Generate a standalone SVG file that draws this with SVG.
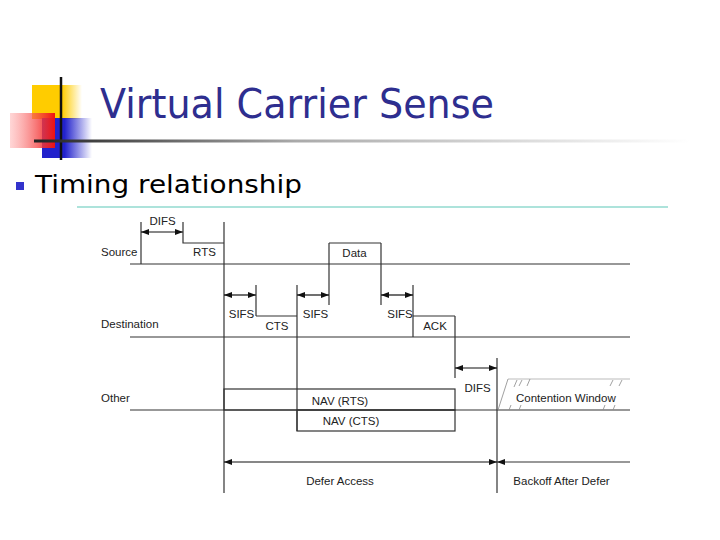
<svg xmlns="http://www.w3.org/2000/svg" width="720" height="540" viewBox="0 0 720 540">
<defs>
<linearGradient id="gY" x1="0" x2="1" y1="0" y2="0"><stop offset="0" stop-color="#ffcc00"/><stop offset="0.6" stop-color="#ffcc00"/><stop offset="1" stop-color="#ffcc00" stop-opacity="0"/></linearGradient>
<linearGradient id="gR" x1="0" x2="1" y1="0" y2="0"><stop offset="0" stop-color="#ff9999" stop-opacity="0.4"/><stop offset="1" stop-color="#ee1111"/></linearGradient>
<linearGradient id="gB" x1="0" x2="1" y1="0" y2="0"><stop offset="0" stop-color="#2222cc"/><stop offset="0.45" stop-color="#2222cc"/><stop offset="1" stop-color="#2222cc" stop-opacity="0"/></linearGradient>
<linearGradient id="gL" x1="34" x2="690" y1="0" y2="0" gradientUnits="userSpaceOnUse"><stop offset="0" stop-color="#222"/><stop offset="0.4" stop-color="#aaa"/><stop offset="1" stop-color="#fff"/></linearGradient>
<marker id="ah" viewBox="0 0 8 6" refX="8" refY="3" markerWidth="8" markerHeight="6" markerUnits="userSpaceOnUse" orient="auto-start-reverse"><path d="M0,0 L8,3 L0,6 z" fill="#111"/></marker>
</defs>
<style>
.t{font-family:"Liberation Sans",Arial,sans-serif;font-size:11.5px;fill:#222}
.m{text-anchor:middle}
.ln{stroke:#333;stroke-width:1.2;fill:none}
.ar{stroke:#111;stroke-width:1.2;fill:none;marker-start:url(#ah);marker-end:url(#ah)}
.h{stroke:#888;stroke-width:0.8}
</style>
<rect width="720" height="540" fill="#fff"/>
<g id="logo">
<rect x="32" y="85" width="50" height="34" fill="url(#gY)"/>
<rect x="42" y="118" width="50" height="40" fill="url(#gB)"/>
<rect x="10" y="113" width="45" height="35" fill="url(#gR)"/>
<line x1="61" y1="77" x2="61" y2="160" stroke="#111" stroke-width="2.5"/>
<line x1="34" y1="141" x2="690" y2="141" stroke="url(#gL)" stroke-width="3"/>
</g>
<g id="title"><text x="100" y="118" font-family="'DejaVu Sans',Tahoma,sans-serif" font-size="41" fill="#2e2e8f" textLength="394" lengthAdjust="spacingAndGlyphs">Virtual Carrier Sense</text></g>
<g id="bullet">
<rect x="16" y="182" width="8" height="8" fill="#3333cc"/>
<text x="35" y="193" font-family="'DejaVu Sans',Tahoma,sans-serif" font-size="25" fill="#000" textLength="267" lengthAdjust="spacingAndGlyphs">Timing relationship</text>
</g>
<line x1="77" y1="207" x2="668" y2="207" stroke="#5cc8b8" stroke-width="1.2"/>
<g id="labels">
<text class="t" x="101" y="256">Source</text>
<text class="t" x="101" y="328">Destination</text>
<text class="t" x="101" y="402">Other</text>
</g>
<g id="connectors">
<line class="ln" x1="130" y1="264" x2="630" y2="264"/>
<line class="ln" x1="130" y1="337" x2="630" y2="337"/>
<line class="ln" x1="130" y1="410" x2="630" y2="410"/>
<line class="ln" x1="141" y1="222" x2="141" y2="264"/>
<line class="ln" x1="224" y1="222" x2="224" y2="493"/>
<line class="ln" x1="256" y1="285" x2="256" y2="316"/>
<line class="ln" x1="297" y1="285" x2="297" y2="431"/>
<line class="ln" x1="329" y1="243" x2="329" y2="305"/>
<line class="ln" x1="381" y1="243" x2="381" y2="305"/>
<line class="ln" x1="413" y1="285" x2="413" y2="337"/>
<line class="ln" x1="455" y1="316" x2="455" y2="378"/>
<line class="ln" x1="497" y1="358" x2="497" y2="493"/>
<line class="ar" x1="141" y1="232" x2="183" y2="232"/>
<line class="ar" x1="224" y1="295" x2="256" y2="295"/>
<line class="ar" x1="297" y1="295" x2="329" y2="295"/>
<line class="ar" x1="381" y1="295" x2="413" y2="295"/>
<line class="ar" x1="455" y1="368" x2="497" y2="368"/>
<line class="ar" x1="224" y1="462" x2="497" y2="462"/>
<line class="ln" x1="630" y1="462" x2="497" y2="462" style="marker-end:url(#ah)"/>
</g>
<g id="rts"><path class="ln" d="M183,222 V243 H224"/><text class="t m" x="204.5" y="256">RTS</text></g>
<g id="data"><path class="ln" d="M329,243 H381"/><text class="t m" x="354.5" y="257">Data</text></g>
<g id="cts"><path class="ln" d="M256,316 H297"/><text class="t m" x="277" y="330">CTS</text></g>
<g id="ack"><path class="ln" d="M413,316 H455"/><text class="t m" x="435" y="330">ACK</text></g>
<g id="nav-rts"><rect class="ln" x="224" y="389" width="231" height="21"/><text class="t m" x="340" y="405">NAV (RTS)</text></g>
<g id="nav-cts"><rect class="ln" x="297" y="410" width="158" height="21"/><text class="t m" x="351" y="425">NAV (CTS)</text></g>
<g id="intervals">
<text class="t m" x="162.5" y="225">DIFS</text>
<text class="t m" x="241.5" y="318">SIFS</text>
<text class="t m" x="315.5" y="318">SIFS</text>
<text class="t m" x="400" y="318">SIFS</text>
<text class="t m" x="477.5" y="392">DIFS</text>
</g>
<g id="contention">
<line x1="508" y1="379" x2="630" y2="379" stroke="#bbb" stroke-width="1"/>
<line class="h" x1="498" y1="410" x2="508" y2="379"/>
<line class="h" x1="517" y1="380" x2="514" y2="387"/>
<line class="h" x1="522" y1="380" x2="519" y2="386"/>
<line class="h" x1="530" y1="379" x2="527" y2="386"/>
<line class="h" x1="509" y1="410" x2="511" y2="405"/>
<line class="h" x1="519" y1="410" x2="521" y2="405"/>
<line class="h" x1="613" y1="380" x2="610" y2="386"/>
<line class="h" x1="622" y1="380" x2="619" y2="386"/>
<line class="h" x1="603" y1="410" x2="605" y2="405"/>
<line class="h" x1="613" y1="410" x2="615" y2="405"/>
<text class="t" x="516" y="402">Contention Window</text>
</g>
<g id="defer">
<text class="t m" x="340" y="485">Defer Access</text>
<text class="t m" x="561.5" y="485">Backoff After Defer</text>
</g>
</svg>
